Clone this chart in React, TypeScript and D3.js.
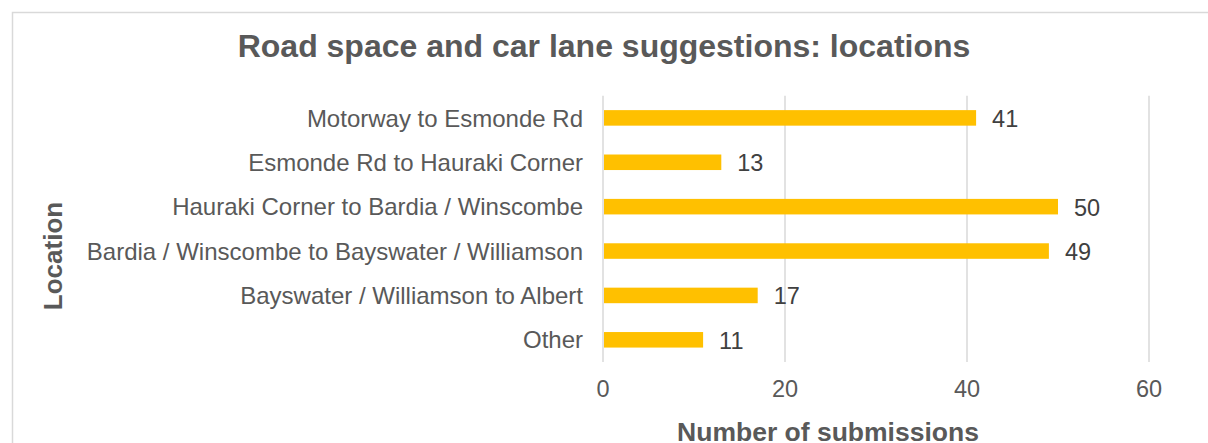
import React from "react";
import * as d3 from "d3";

const categories = [
  "Motorway to Esmonde Rd",
  "Esmonde Rd to Hauraki Corner",
  "Hauraki Corner to Bardia / Winscombe",
  "Bardia / Winscombe to Bayswater / Williamson",
  "Bayswater / Williamson to Albert",
  "Other",
];
const values = [41, 13, 50, 49, 17, 11];
const xTicks = [0, 20, 40, 60];
const title = "Road space and car lane suggestions: locations";
const xTitle = "Number of submissions";
const yTitle = "Location";

const W = 1208;
const H = 443;
const FONT = "Liberation Sans, Arial, sans-serif";

export default function App() {
  const x = d3.scaleLinear().domain([0, 60]).range([603, 1149]);
  const y = d3.scaleBand<string>().domain(categories).range([95.7, 362]).paddingInner(0.65).paddingOuter(0.325);
  const [y0, y1] = [95.7, 362];

  return (
    <svg
      width={W}
      height={H}
      style={{ position: "fixed", left: 0, top: 0, background: "#fff" }}
      fontFamily={FONT}
    >
      <rect x={12.5} y={12.5} width={1400} height={600} fill="#fff" stroke="#d9d9d9" strokeWidth={1.5} />
      <text x={604} y={57} textAnchor="middle" fontSize={32} fontWeight="bold" fill="#595959">
        {title}
      </text>
      {xTicks.map((t) => (
        <g key={t}>
          <line x1={x(t)} x2={x(t)} y1={y0} y2={y1} stroke="#d9d9d9" strokeWidth={1.5} />
          <text x={x(t)} y={397} textAnchor="middle" fontSize={23.5} fill="#595959">
            {t}
          </text>
        </g>
      ))}
      {categories.map((c, i) => {
        const by = y(c)!;
        const bh = y.bandwidth();
        return (
          <g key={c}>
            <rect x={x(0) + 1} y={by} width={x(values[i]) - x(0) - 1} height={bh} fill="#FFC000" />
            <text x={583} y={by + bh / 2} dy="0.36em" textAnchor="end" fontSize={24} fill="#595959">
              {c}
            </text>
            <text x={x(values[i]) + 16} y={by + bh / 2} dy="0.38em" textAnchor="start" fontSize={23.5} fill="#404040">
              {values[i]}
            </text>
          </g>
        );
      })}
      <text
        transform={`translate(62,256) rotate(-90)`}
        textAnchor="middle"
        fontSize={26}
        fontWeight="bold"
        fill="#595959"
      >
        {yTitle}
      </text>
      <text x={828} y={441} textAnchor="middle" fontSize={26.5} fontWeight="bold" fill="#595959">
        {xTitle}
      </text>
    </svg>
  );
}
